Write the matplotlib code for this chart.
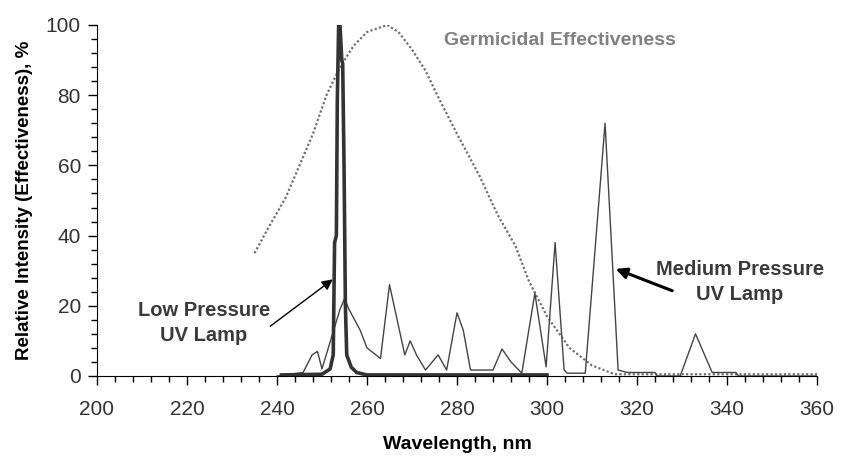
import matplotlib
matplotlib.use("Agg")
import matplotlib.pyplot as plt
from matplotlib.ticker import MultipleLocator

plt.rcParams['font.family'] = ['Liberation Sans', 'DejaVu Sans']

# germicidal effectiveness curve (dotted)
germ_nm = [235, 238, 242, 245, 248, 251, 254, 257, 260, 264.5, 267, 270, 273, 276,
           280, 285, 289, 293, 296, 300, 305, 310, 315, 320, 360]
germ_val = [35, 42, 51, 60, 69, 80, 88, 94, 98, 100, 98, 93, 87, 79,
            69, 57, 46, 37, 27, 17, 8, 3, 0.5, 0.5, 0.5]

# low pressure lamp (thick line)
low_nm = [241, 250, 251.8, 252.5, 252.8, 253.2, 253.4, 253.7, 254.0, 254.4, 254.6,
          254.9, 255.2, 255.5, 256.5, 257.7, 260, 300]
low_val = [0.3, 0.5, 2, 6, 38, 40, 78, 100, 100, 90, 89,
           60, 20, 6, 2.5, 1, 0.3, 0.3]

# medium pressure lamp (thin line)
med_nm = [240, 245.8, 247.8, 249, 250, 254, 255, 256, 258.5, 260, 263, 265, 268.4,
          269.6, 271, 273, 274.5, 275.8, 277.7, 280, 281.4, 283, 288, 290, 292,
          294.4, 297.3, 299.8, 301.8, 303.8, 304.5, 308.5, 312.9, 315.8, 317.8,
          324, 324.5, 329.6, 333, 336.7, 342, 342.5, 360]
med_val = [0, 1, 6, 7, 2, 19, 22, 19, 13, 8, 5, 26, 6,
           10, 6, 1.7, 4, 6, 1.7, 18, 13, 1.7, 1.7, 7.7, 4,
           0.8, 23.6, 2.6, 38, 1.7, 0.8, 0.8, 72, 1.7, 1,
           1, 0, 0, 12, 1, 1, 0, 0]

fig = plt.figure(figsize=(8.41, 4.61), dpi=100)
ax = fig.add_axes([0.1153, 0.1844, 0.8562, 0.7614])

ax.plot(germ_nm, germ_val, color='#707070', lw=1.6, linestyle=(0, (1, 1)))
ax.plot(med_nm, med_val, color='#444444', lw=1.0)
ax.plot(low_nm, low_val, color='#333333', lw=2.6)

ax.set_xlim(200, 360)
ax.set_ylim(0, 100)
ax.xaxis.set_major_locator(MultipleLocator(20))
ax.xaxis.set_minor_locator(MultipleLocator(4))
ax.yaxis.set_major_locator(MultipleLocator(20))
ax.yaxis.set_minor_locator(MultipleLocator(4))
ax.tick_params(which='major', direction='out', length=6.5, width=1, labelsize=15,
               labelcolor='#333333')
ax.tick_params(which='minor', direction='out', length=4.5, width=1)
ax.tick_params(axis='y', pad=5)
ax.tick_params(axis='x', pad=11)
for s in ['top', 'right']:
    ax.spines[s].set_visible(False)

ax.set_xlabel('Wavelength, nm', fontsize=14, fontweight='bold', labelpad=12)
ax.set_ylabel('Relative Intensity (Effectiveness), %', fontsize=13.5,
              fontweight='bold', labelpad=9)

ax.text(302.9, 95.7, 'Germicidal Effectiveness', color='#808080', fontsize=14,
        fontweight='bold', ha='center', va='center')
ax.text(223.7, 15.1, 'Low Pressure\nUV Lamp', color='#3a3a3a', fontsize=14.5,
        fontweight='bold', ha='center', va='center', linespacing=1.35)
ax.text(342.9, 26.8, 'Medium Pressure\nUV Lamp', color='#3a3a3a', fontsize=14.5,
        fontweight='bold', ha='center', va='center', linespacing=1.35)

ax.annotate('', xy=(252.9, 28), xytext=(238, 13.7),
            arrowprops=dict(arrowstyle='-|>', color='black', lw=1.0, mutation_scale=16))
ax.annotate('', xy=(314.7, 30.8), xytext=(328.4, 24),
            arrowprops=dict(arrowstyle='-|>', color='black', lw=2.2, mutation_scale=16))

fig.savefig('out.png', dpi=100)
